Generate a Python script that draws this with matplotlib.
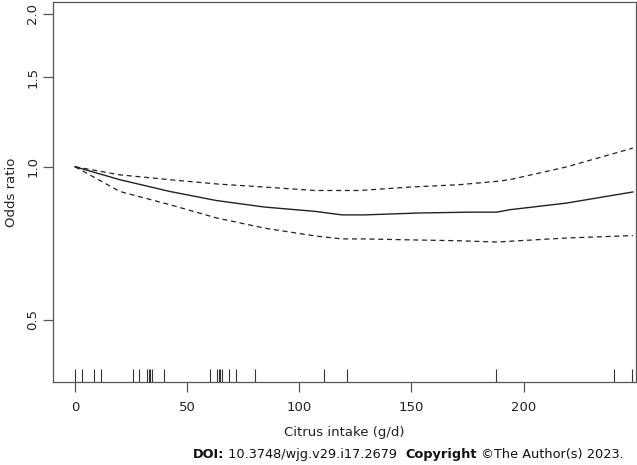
import matplotlib
matplotlib.use("Agg")
import matplotlib.pyplot as plt
from matplotlib.ticker import FixedLocator, FixedFormatter, NullLocator

# spline fit
x_fit = [0, 20, 42.3, 63.1, 84.6, 106.9, 119, 129.2, 153.7, 175.9, 188, 193.8, 219, 248.7]
or_fit = [1.0, 0.943, 0.894, 0.858, 0.833, 0.817, 0.804, 0.804, 0.811, 0.814, 0.814, 0.823, 0.848, 0.892]

x_upper = [0, 20, 42.3, 63.1, 84.6, 106.9, 127, 149.2, 171.5, 188, 193.8, 219, 248.7]
or_upper = [1.0, 0.964, 0.943, 0.925, 0.912, 0.898, 0.898, 0.912, 0.922, 0.936, 0.943, 0.999, 1.088]

x_lower = [0, 20, 42.3, 63.1, 84.6, 106.9, 119, 129.2, 149.2, 171.5, 188, 219, 248.7]
or_lower = [1.0, 0.894, 0.842, 0.793, 0.757, 0.731, 0.721, 0.721, 0.718, 0.715, 0.711, 0.724, 0.732]

# rug of observed intakes
rug = [0.1, 3.0, 8.5, 11.6, 25.7, 28.5, 31.9, 32.8, 33.5, 34.4, 39.9, 60.1, 63.1, 64.0,
       64.7, 65.4, 68.7, 72.0, 80.3, 111.1, 121.2, 187.8, 240.1, 248.4]

x_ticks = [0, 50, 100, 150, 200]
y_ticks = [0.5, 1.0, 1.5, 2.0]
y_labels = ["0.5", "1.0", "1.5", "2.0"]

fs = 9.5
plt.rcParams['font.family'] = ['DejaVu Sans']
fig = plt.figure(figsize=(6.37, 4.65), dpi=100)
ax = fig.add_axes([0.0832, 0.1785, 0.9148, 0.8172])

line_col = '#222222'
ax.plot(x_fit, or_fit, color=line_col, lw=1.0)
ax.plot(x_upper, or_upper, color=line_col, lw=0.9, ls=(0, (4, 3)))
ax.plot(x_lower, or_lower, color=line_col, lw=0.9, ls=(0, (4, 3)))
ax.vlines(rug, 0, 0.034, transform=ax.get_xaxis_transform(), color='#333333', lw=0.8)

ax.set_yscale('log')
ax.set_xlim(-9.8, 250)
ax.set_ylim(0.377, 2.11)
ax.yaxis.set_major_locator(FixedLocator(y_ticks))
ax.yaxis.set_major_formatter(FixedFormatter(y_labels))
ax.yaxis.set_minor_locator(NullLocator())
ax.set_xticks(x_ticks)

for s in ax.spines.values():
    s.set_color('#555555')
    s.set_linewidth(0.9)
ax.tick_params(colors='#555555', labelcolor='#222222', labelsize=fs, length=7, width=0.9)
ax.tick_params(axis='x', pad=7)
ax.tick_params(axis='y', pad=3)
for lab in ax.get_yticklabels():
    lab.set_rotation(90)
    lab.set_va('center')

ax.set_xlabel('Citrus intake (g/d)', fontsize=fs, color='#222222', labelpad=8)
ax.set_ylabel('Odds ratio', fontsize=fs, color='#222222', labelpad=6)

# footer
fig.canvas.draw()
r = fig.canvas.get_renderer()
pieces = [("DOI:", 'bold'), (" 10.3748/wjg.v29.i17.2679  ", 'normal'),
          ("Copyright", 'bold'), (" \u00a9The Author(s) 2023.", 'normal')]
x0 = 193 / 637
for txt, w in pieces:
    t = fig.text(x0, 1 - 454 / 465, txt, fontsize=9.3, fontweight=w, va='center', color='#111111')
    bb = t.get_window_extent(renderer=r)
    x0 += bb.width / fig.bbox.width

plt.savefig('out.png', dpi=100)
